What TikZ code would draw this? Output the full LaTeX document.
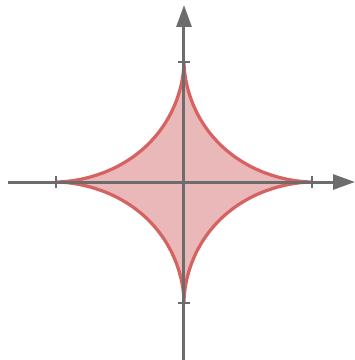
\documentclass[tikz,border=0pt]{standalone}
\usepackage{tikz}
\usetikzlibrary{arrows.meta}

\definecolor{curvefill}{RGB}{234,184,184}
\definecolor{curveline}{RGB}{214,98,98}
\definecolor{axisgray}{RGB}{108,108,108}

\begin{document}
\begin{tikzpicture}[
    x=0.02cm, y=0.02cm,
    >={Triangle[length=0.44cm, width=0.3cm]},
    axis/.style={
        ->,
        line width=0.06cm,
        draw=axisgray
    },
    tick/.style={
        line width=0.04cm,
        draw=axisgray
    },
    astroid/.style={
        line width=0.065cm,
        line join=round,
        draw=curveline,
        fill=curvefill
    }
]
\useasboundingbox (0,0) rectangle (355,360);

% Origin and ends of the axes
\coordinate (O) at (184,178);
\coordinate (xmin) at (8,178);
\coordinate (xmax) at (355,178);
\coordinate (ymin) at (184,0);
\coordinate (ymax) at (184,355);

% Cusps of the star
\coordinate (cr) at (312,178);
\coordinate (ct) at (184,298);
\coordinate (cl) at (56,178);
\coordinate (cb) at (184,57);

% Star with four cusps
\draw[astroid, shift={(O)}] plot[domain=0.5:360.5, samples=361]
    ({128*cos(\x)*abs(cos(\x))^2.5}, {120*sin(\x)*abs(sin(\x))^2.5}) -- cycle;

% Axes
\draw[axis] (xmin) -- (xmax);
\draw[axis] (ymin) -- (ymax);

% Ticks at the cusps
\foreach \c in {cl,cr}
    \draw[tick] ([shift={(0,-6)}]\c) -- ([shift={(0,6)}]\c);
\foreach \c in {cb,ct}
    \draw[tick] ([shift={(-6,0)}]\c) -- ([shift={(6,0)}]\c);

\end{tikzpicture}
\end{document}
